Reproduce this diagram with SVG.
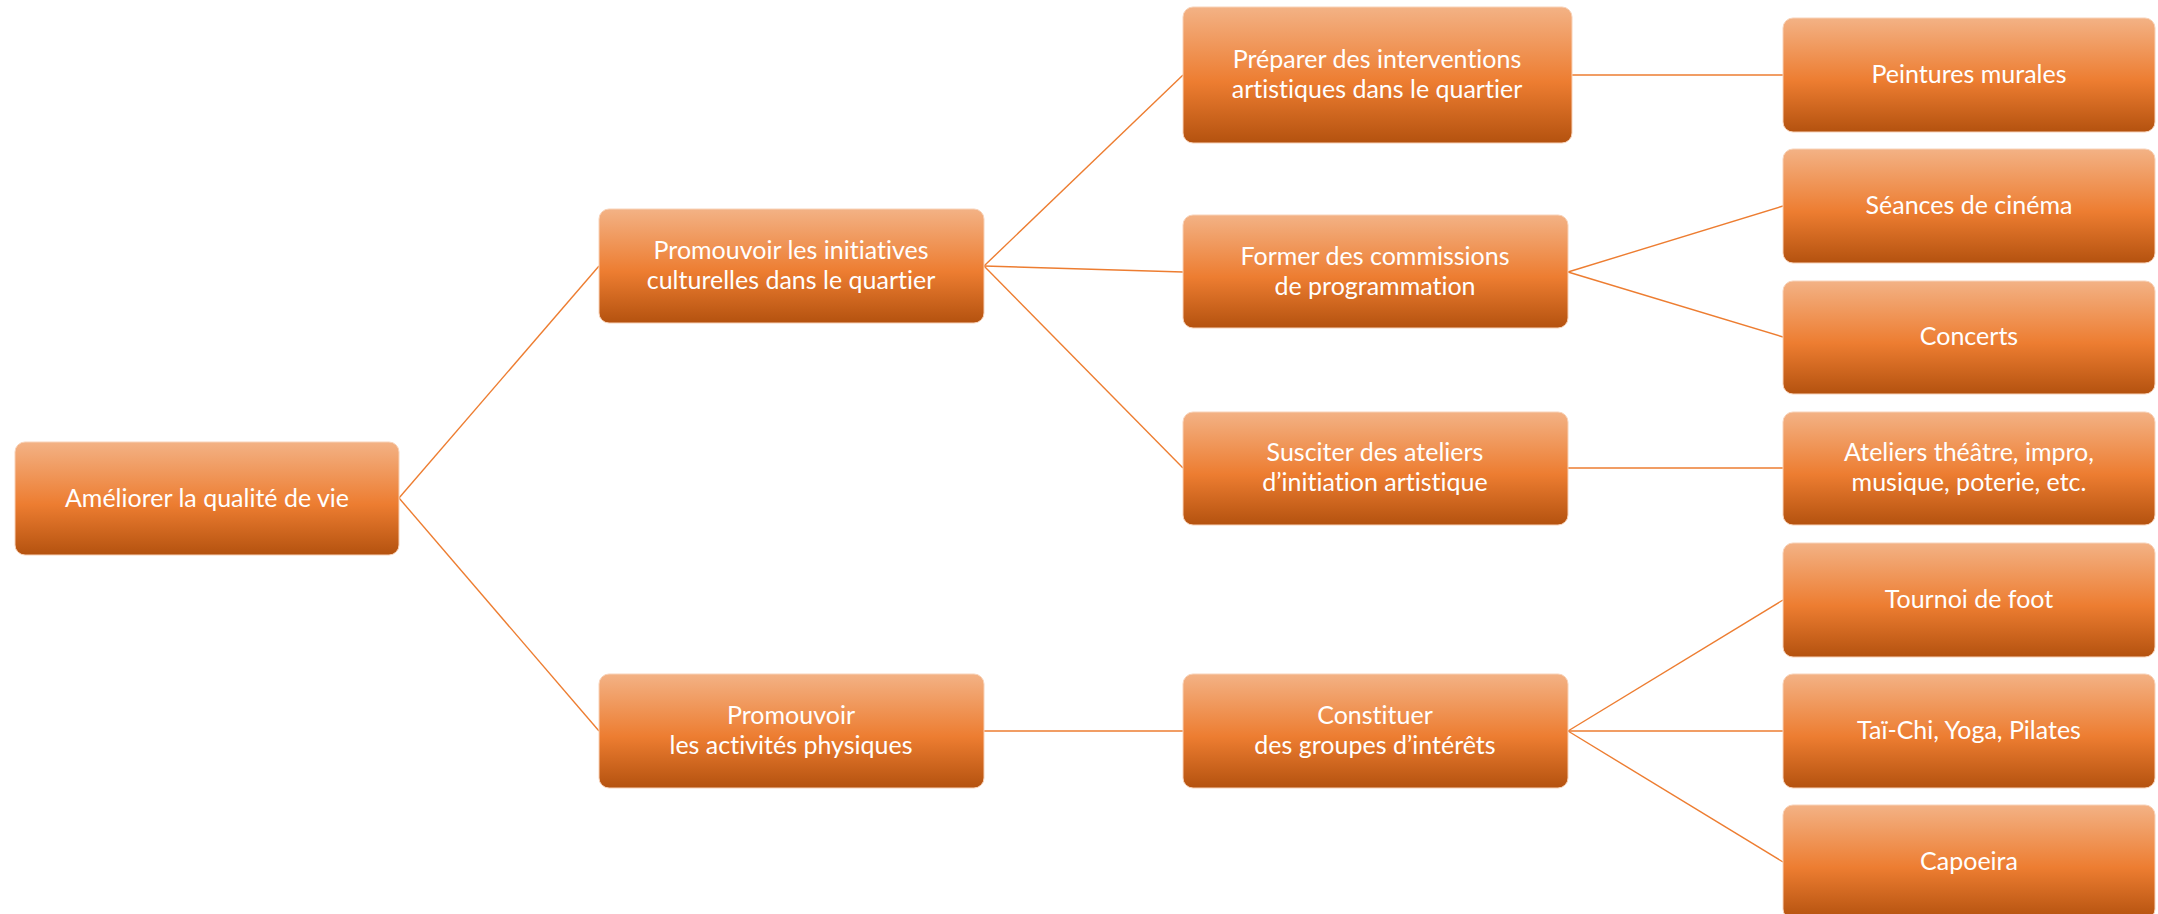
<svg xmlns="http://www.w3.org/2000/svg" width="2158" height="914" viewBox="0 0 2158 914">
<defs>
<linearGradient id="g" x1="0" y1="0" x2="0" y2="1">
<stop offset="0" stop-color="#F3B285"/>
<stop offset="0.55" stop-color="#ED7D31"/>
<stop offset="1" stop-color="#B4520F"/>
</linearGradient>
</defs>
<style>
.box{fill:url(#g);stroke:#F8D2B8;stroke-width:1}
.t{font-family:Lato,"Liberation Sans",sans-serif;font-size:25px;fill:#FFFFFF;text-anchor:middle;font-variant-ligatures:none;font-feature-settings:"liga" 0,"clig" 0,"dlig" 0}
.c{stroke:#ED7D31;stroke-width:1.4;fill:none}
</style>
<rect width="2158" height="914" fill="#FFFFFF"/>
<g id="connectors">
<line class="c" x1="399" y1="498" x2="599" y2="266"/>
<line class="c" x1="399" y1="498" x2="599" y2="731"/>
<line class="c" x1="984" y1="266" x2="1183" y2="75"/>
<line class="c" x1="984" y1="266" x2="1183" y2="272"/>
<line class="c" x1="984" y1="266" x2="1183" y2="468"/>
<line class="c" x1="1572" y1="75" x2="1783" y2="75"/>
<line class="c" x1="1568" y1="272" x2="1783" y2="206"/>
<line class="c" x1="1568" y1="272" x2="1783" y2="337"/>
<line class="c" x1="1568" y1="468" x2="1783" y2="468"/>
<line class="c" x1="984" y1="731" x2="1183" y2="731"/>
<line class="c" x1="1568" y1="731" x2="1783" y2="600"/>
<line class="c" x1="1568" y1="731" x2="1783" y2="731"/>
<line class="c" x1="1568" y1="731" x2="1783" y2="862"/>
</g>
<g id="n-root"><rect class="box" x="15" y="442" width="384" height="113" rx="10"/><text class="t" x="207" y="507">Améliorer la qualité de vie</text></g>
<g id="n-culture"><rect class="box" x="599" y="209" width="385" height="114" rx="10"/><text class="t" x="791" y="259">Promouvoir les initiatives</text><text class="t" x="791" y="289">culturelles dans le quartier</text></g>
<g id="n-physique"><rect class="box" x="599" y="674" width="385" height="114" rx="10"/><text class="t" x="791" y="724">Promouvoir</text><text class="t" x="791" y="754">les activités physiques</text></g>
<g id="n-preparer"><rect class="box" x="1183" y="7" width="389" height="136" rx="10"/><text class="t" x="1377" y="68">Préparer des interventions</text><text class="t" x="1377" y="98">artistiques dans le quartier</text></g>
<g id="n-former"><rect class="box" x="1183" y="215" width="385" height="113" rx="10"/><text class="t" x="1375" y="265">Former des commissions</text><text class="t" x="1375" y="295">de programmation</text></g>
<g id="n-susciter"><rect class="box" x="1183" y="412" width="385" height="113" rx="10"/><text class="t" x="1375" y="461">Susciter des ateliers</text><text class="t" x="1375" y="491">d’initiation artistique</text></g>
<g id="n-constituer"><rect class="box" x="1183" y="674" width="385" height="114" rx="10"/><text class="t" x="1375" y="724">Constituer</text><text class="t" x="1375" y="754">des groupes d’intérêts</text></g>
<g id="n-peintures"><rect class="box" x="1783" y="18" width="372" height="114" rx="10"/><text class="t" x="1969" y="83">Peintures murales</text></g>
<g id="n-cinema"><rect class="box" x="1783" y="149" width="372" height="114" rx="10"/><text class="t" x="1969" y="214">Séances de cinéma</text></g>
<g id="n-concerts"><rect class="box" x="1783" y="281" width="372" height="113" rx="10"/><text class="t" x="1969" y="345">Concerts</text></g>
<g id="n-ateliers"><rect class="box" x="1783" y="412" width="372" height="113" rx="10"/><text class="t" x="1969" y="461">Ateliers théâtre, impro,</text><text class="t" x="1969" y="491">musique, poterie, etc.</text></g>
<g id="n-foot"><rect class="box" x="1783" y="543" width="372" height="114" rx="10"/><text class="t" x="1969" y="608">Tournoi de foot</text></g>
<g id="n-taichi"><rect class="box" x="1783" y="674" width="372" height="114" rx="10"/><text class="t" x="1969" y="739">Taï-Chi, Yoga, Pilates</text></g>
<g id="n-capoeira"><rect class="box" x="1783" y="805" width="372" height="114" rx="10"/><text class="t" x="1969" y="870">Capoeira</text></g>
</svg>
